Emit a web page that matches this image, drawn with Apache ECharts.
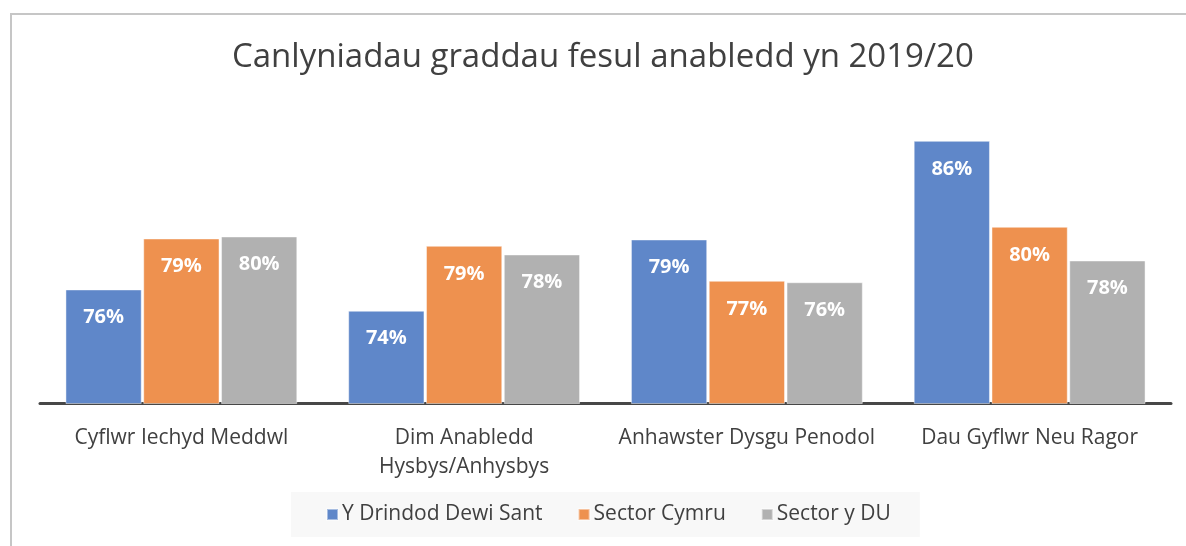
<!DOCTYPE html>
<html>
<head>
<meta charset="utf-8">
<script src="https://cdn.jsdelivr.net/npm/echarts@6/dist/echarts.min.js"></script>
<style>
  html, body { margin: 0; padding: 0; background: #ffffff; }
  #chart { width: 1186px; height: 546px; }
</style>
</head>
<body>
<div id="chart"></div>
<script>
// Degree outcomes by disability, 2019/20
const titleText = 'Canlyniadau graddau fesul anabledd yn 2019/20';
const categories = [
  'Cyflwr Iechyd Meddwl',
  'Dim Anabledd\nHysbys/Anhysbys',
  'Anhawster Dysgu Penodol',
  'Dau Gyflwr Neu Ragor'
];
const seriesNames = ['Y Drindod Dewi Sant', 'Sector Cymru', 'Sector y DU'];
const drindod = [75.92, 74.44, 79.39, 86.24];
const cymru = [79.46, 78.95, 76.52, 80.27];
const du = [79.60, 78.35, 76.42, 77.93];
const seriesColors = ['#5f87c9', '#ee914f', '#b1b1b1'];

const fontFamily = '"Open Sans", "Noto Sans", sans-serif';
const textColor = '#404040';

const chart = echarts.init(document.getElementById('chart'), null, { renderer: 'canvas' });

function barSeries(name, data, color) {
  return {
    name: name,
    type: 'bar',
    data: data,
    barGap: '2%',
    barCategoryGap: '18%',
    itemStyle: {
      color: color,
      borderColor: 'rgba(255,255,255,0.45)',
      borderWidth: 1
    },
    label: {
      show: true,
      position: 'insideTop',
      distance: 18,
      color: '#ffffff',
      fontFamily: fontFamily,
      fontWeight: 'bold',
      fontSize: 20,
      formatter: p => Math.round(p.value) + '%'
    },
    emphasis: { disabled: true }
  };
}

chart.setOption({
  animation: false,
  backgroundColor: '#ffffff',
  title: {
    text: titleText,
    left: 227,
    top: 36,
    textStyle: {
      fontFamily: fontFamily,
      fontWeight: 'normal',
      fontSize: 33,
      color: textColor
    }
  },
  graphic: [{
    type: 'rect',
    shape: { x: 11, y: 14, width: 1300, height: 700 },
    style: { fill: 'none', stroke: '#c6c6c6', lineWidth: 2 },
    silent: true,
    z: -1
  }],
  legend: {
    data: seriesNames,
    left: 291,
    top: 492,
    padding: [12, 29, 12, 35],
    itemGap: 35,
    itemWidth: 11,
    itemHeight: 11,
    icon: 'rect',
    backgroundColor: '#f8f8f8',
    textStyle: {
      fontFamily: fontFamily,
      fontSize: 21,
      color: textColor,
      padding: [0, 0, 0, -1]
    }
  },
  grid: {
    left: 40,
    width: 1131,
    top: 86.7,
    height: 316.8,
    outerBoundsMode: 'none'
  },
  xAxis: {
    type: 'category',
    data: categories,
    axisLine: { show: true, lineStyle: { color: '#474747', width: 3 } },
    axisTick: { show: false },
    axisLabel: {
      margin: 20,
      fontFamily: fontFamily,
      fontSize: 21,
      lineHeight: 29,
      color: textColor,
      interval: 0
    }
  },
  yAxis: {
    type: 'value',
    min: 68,
    max: 90,
    show: false,
    splitLine: { show: false }
  },
  series: [
    barSeries(seriesNames[0], drindod, seriesColors[0]),
    barSeries(seriesNames[1], cymru, seriesColors[1]),
    barSeries(seriesNames[2], du, seriesColors[2])
  ]
});
</script>
</body>
</html>
